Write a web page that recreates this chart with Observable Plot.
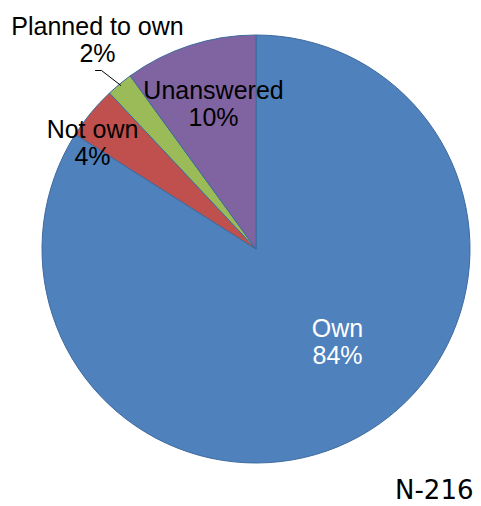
<!DOCTYPE html>
<html><head><meta charset="utf-8">
<script src="https://cdn.jsdelivr.net/npm/d3@7"></script>
<script src="https://cdn.jsdelivr.net/npm/@observablehq/plot@0.6"></script>
<style>html,body{margin:0;padding:0;background:#fff}</style>
</head><body><div id="chart"></div>
<script>
const categories = ["Own", "Not own", "Planned to own", "Unanswered"];
const percents = [84, 4, 2, 10];
const colors = ["#4F81BD", "#C0504D", "#9BBB59", "#8064A2"];
const percentLabels = ["84%", "4%", "2%", "10%"];
const note = "N-216";

const W = 481, H = 506, CX = 256, CY = 249, R = 214;
const FONT = "'Liberation Sans', Arial, sans-serif";

const data = categories.map((c, i) => ({category: c, value: percents[i], color: colors[i], label: c + "\n" + percentLabels[i]}));
const arcs = d3.pie().sort(null).value(d => d.value)(data);

// label anchor positions (pixel layout)
const labelPos = {"Own": [337, 341], "Not own": [92, 142], "Planned to own": [97, 39], "Unanswered": [213, 103]};
const labelFill = {"Own": "#ffffff"};

function pieMark(index, scales) {
  const sx = scales.x, sy = scales.y;
  const cx = sx(CX), cy = sy(CY), r = sx(CX + R) - sx(CX);
  const g = d3.create("svg:g").attr("transform", `translate(${cx},${cy})`);
  const arc = d3.arc().innerRadius(0).outerRadius(r);
  g.selectAll("path").data(arcs).join("path")
    .attr("d", arc)
    .attr("fill", d => d.data.color)
    .attr("stroke", "#3d6a9e")
    .attr("stroke-width", 1)
    .attr("stroke-linejoin", "round");
  return g.node();
}

// leader line for the small "Planned to own" slice
const pa = arcs[2];
const mid = (pa.startAngle + pa.endAngle) / 2;
const leader = [
  {x: 95, y: 70},
  {x: 101, y: 70},
  {x: CX + (R - 1) * Math.sin(mid), y: CY - (R - 1) * Math.cos(mid)}
];

const chart = Plot.plot({
  width: W, height: H,
  margin: 0,
  x: {domain: [0, W], range: [0, W], axis: null},
  y: {domain: [0, H], range: [0, H], axis: null},
  style: {fontFamily: FONT, background: "#fff"},
  marks: [
    pieMark,
    Plot.line(leader, {x: "x", y: "y", stroke: "#000", strokeWidth: 1}),
    Plot.text(data, {
      x: d => labelPos[d.category][0],
      y: d => labelPos[d.category][1],
      text: "label",
      fill: d => labelFill[d.category] || "#000",
      fontSize: 25,
      lineHeight: 1.1,
      textAnchor: "middle",
      fontFamily: FONT
    }),
    Plot.text([note], {
      x: 473, y: 490,
      text: d => d,
      textAnchor: "end",
      fontSize: 26,
      fill: "#000",
      fontFamily: "'DejaVu Sans', Verdana, sans-serif"
    })
  ]
});
document.getElementById("chart").append(chart);
</script>
</body></html>
